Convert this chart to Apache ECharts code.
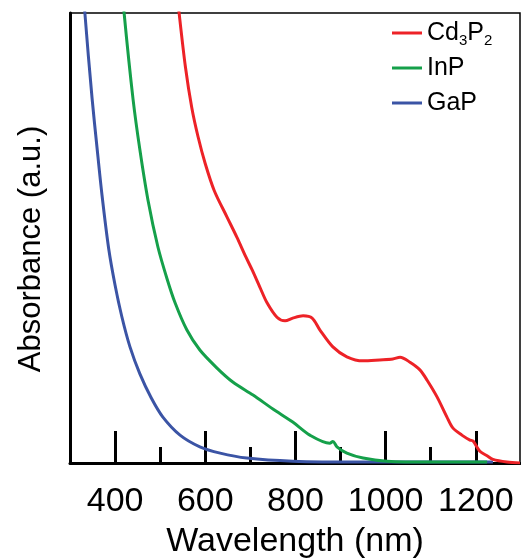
<!DOCTYPE html>
<html>
<head>
<meta charset="utf-8">
<script src="https://cdn.jsdelivr.net/npm/echarts@6/dist/echarts.min.js"></script>
<style>
html,body{margin:0;padding:0;background:#fff;}
#chart{width:521px;height:558px;}
</style>
</head>
<body>
<div id="chart"></div>
<script>
// Wavelength (nm), absorbance (a.u.) pairs
const cd3p2 = [
  [536,106],[542,100],[556,88],[570,79],[584,72.5],[600,66.5],[620,60.5],[648,54.7],
  [670,50.2],[690,45.8],[704,42.9],[721,39.1],[737,35.6],[759,32.4],[777,31.6],
  [794,32.2],[817,32.7],[837,32.2],[854,29.6],[883,25.8],[914,23.6],[950,22.7],
  [987,22.9],[1016,23.1],[1032,23.5],[1054,22.4],[1076,20.7],[1092,18.4],[1114,14.7],
  [1136,10.2],[1149,7.8],[1169,6.2],[1187,5.1],[1194,4.9],[1209,2.6],[1225,1.6],
  [1238,0.8],[1269,0.2],[1298,0.0]
];
const inp = [
  [416,106],[420,100],[440,80.7],[455,69.6],[473,58.4],[495,48.0],[515,41.0],
  [533,35.6],[559,29.6],[588,25.1],[626,21.1],[661,18.0],[706,15.1],[750,12.0],
  [794,9.1],[832,6.2],[876,4.4],[883,4.8],[892,3.6],[914,2.2],[950,1.1],[1003,0.4],
  [1098,0.2],[1225,0.2]
];
const gap = [
  [330,106],[333,100],[349,81],[360,70],[371,59.5],[386,47.5],[400,39.5],[415,32.5],
  [433,25.8],[455,19.8],[480,14.5],[506,10.2],[544,6.2],[588,3.6],[633,2.2],[692,1.1],
  [794,0.4],[943,0.2],[1238,0.2]
];
const majorTicks = [400,600,800,1000,1200];
const minorTicks = [500,700,900,1100];
const seriesNames = ['Cd3P2','InP','GaP'];
const seriesColors = ['#ed2227','#15a04a','#3b54a5'];

const chart = echarts.init(document.getElementById('chart'), null, {renderer:'canvas'});
const FONT = 'Liberation Sans';
chart.setOption({
  backgroundColor:'#fff',
  animation:false,
  textStyle:{fontFamily:FONT},
  grid:{left:70,right:1,top:13,bottom:95,show:true,borderColor:'#000',borderWidth:1.5,
    backgroundColor:'transparent',containLabel:false,outerBoundsMode:'none'},
  legend:{
    orient:'vertical', left:392, top:18, itemGap:5, padding:0,
    icon:'rect', itemWidth:30, itemHeight:3,
    data:seriesNames,
    textStyle:{fontFamily:FONT,fontSize:25,color:'#000',lineHeight:30,
      rich:{
        a:{fontFamily:FONT,fontSize:25,color:'#000',lineHeight:30},
        s:{fontFamily:FONT,fontSize:15,color:'#000',lineHeight:14,verticalAlign:'bottom'}
      }},
    formatter:function(n){ return n==='Cd3P2' ? '{a|Cd}{s|3}{a|P}{s|2}' : '{a|'+n+'}'; }
  },
  xAxis:[{
    type:'value', min:300, max:1298,
    name:'Wavelength (nm)', nameLocation:'middle', nameGap:62,
    nameTextStyle:{fontFamily:FONT,fontSize:34,color:'#000'},
    axisLine:{show:true,lineStyle:{color:'#000',width:3}},
    axisTick:{show:true,inside:true,length:32,lineStyle:{color:'#000',width:3},customValues:majorTicks},
    axisLabel:{show:true,fontFamily:FONT,fontSize:34,color:'#000',margin:22,customValues:majorTicks,
      formatter:function(v){return String(v);}},
    splitLine:{show:false}
  },{
    type:'value', min:300, max:1298, position:'bottom',
    axisLine:{show:false},
    axisTick:{show:true,inside:true,length:16,lineStyle:{color:'#000',width:3},customValues:minorTicks},
    axisLabel:{show:false},
    splitLine:{show:false}
  }],
  yAxis:{
    type:'value', min:0, max:100,
    axisLine:{show:true,lineStyle:{color:'#000',width:3}},
    axisTick:{show:false}, axisLabel:{show:false}, splitLine:{show:false}
  },
  graphic:[{
    type:'text', x:31, y:249, rotation:Math.PI/2,
    style:{text:'Absorbance (a.u.)',font:'31px "Liberation Sans"',fill:'#000',textAlign:'center',textVerticalAlign:'middle'}
  }],
  series:[cd3p2,inp,gap].map((d,i)=>({
    name:seriesNames[i], type:'line', data:d, xAxisIndex:0, symbol:'none', smooth:0.3,
    clip:true, lineStyle:{color:seriesColors[i],width:3}, itemStyle:{color:seriesColors[i]}, z:3-i
  }))
});
</script>
</body>
</html>
